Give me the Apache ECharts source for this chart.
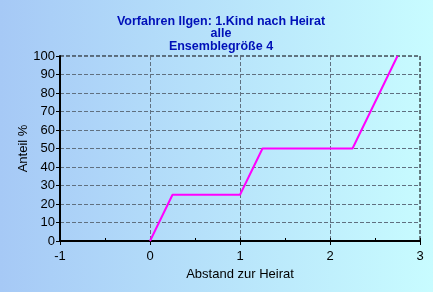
<!DOCTYPE html>
<html><head><meta charset="utf-8">
<script src="https://cdn.jsdelivr.net/npm/echarts@6/dist/echarts.min.js"></script>
<style>html,body{margin:0;padding:0;}#c{width:433px;height:292px;}</style>
</head><body><div id="c"></div>
<script>
const titleLines = ['Vorfahren Ilgen: 1.Kind nach Heirat', 'alle', 'Ensemblegröße 4'];
const xName = 'Abstand zur Heirat';
const yName = 'Anteil %';
const xVals = [0, 0.25, 1, 1.25, 2.25, 2.75];
const yVals = [0, 25, 25, 50, 50, 100];

const chart = echarts.init(document.getElementById('c'));
const font = 'Liberation Sans, Arial, sans-serif';
chart.setOption({
  animation: false,
  backgroundColor: new echarts.graphic.LinearGradient(0, 0, 1, 0, [
    {offset: 0, color: '#a6c9f6'}, {offset: 1, color: '#c8fcff'}
  ]),
  title: {
    text: titleLines.join('\n'), left: 216, top: 10, textAlign: 'center',
    textStyle: {color: '#0010b8', fontWeight: 'bold', fontSize: 12.5, fontFamily: font, lineHeight: 12.5}
  },
  grid: {left: 60, right: 13, top: 56, bottom: 51, show: true, borderColor: '#000', borderWidth: 1, borderType: 'dashed'},
  xAxis: [{
    type: 'value', min: -1, max: 3, interval: 1,
    name: xName, nameLocation: 'middle', nameGap: 26,
    nameTextStyle: {color: '#000', fontSize: 13, fontFamily: font},
    axisLine: {show: true, onZero: false, lineStyle: {color: '#000', width: 2}},
    axisTick: {show: true, length: 4, lineStyle: {color: '#000'}},
    axisLabel: {color: '#000', fontSize: 13, fontFamily: font, margin: 9},
    splitLine: {show: true, lineStyle: {color: '#607080', type: 'dashed', width: 1}}
  }, {
    type: 'value', min: -1, max: 3, interval: 0.5, position: 'bottom',
    axisLine: {show: false},
    axisTick: {show: true, inside: true, length: 3, lineStyle: {color: '#000'}},
    axisLabel: {show: false}, splitLine: {show: false}
  }],
  yAxis: {
    type: 'value', min: 0, max: 100, interval: 10,
    name: yName, nameLocation: 'middle', nameGap: 30, nameMoveOverlap: false,
    nameTextStyle: {color: '#000', fontSize: 13, fontFamily: font},
    axisLine: {show: true, onZero: false, lineStyle: {color: '#000', width: 2}},
    axisTick: {show: true, length: 4, lineStyle: {color: '#000'}},
    axisLabel: {color: '#000', fontSize: 13, fontFamily: font, margin: 5},
    splitLine: {show: true, lineStyle: {color: '#607080', type: 'dashed', width: 1}}
  },
  series: [{
    type: 'line', xAxisIndex: 0, data: xVals.map((x, i) => [x, yVals[i]]),
    showSymbol: false, lineStyle: {color: '#ff00ff', width: 2}, itemStyle: {color: '#ff00ff'}
  }]
});
</script></body></html>
